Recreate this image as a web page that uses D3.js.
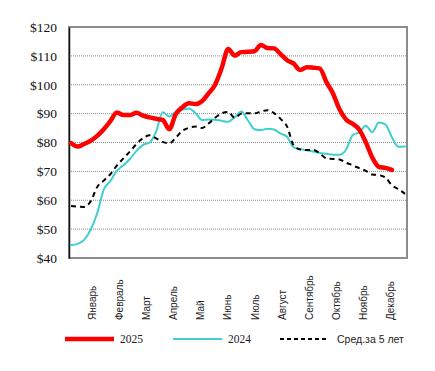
<!DOCTYPE html>
<html>
<head>
<meta charset="utf-8">
<script src="https://cdn.jsdelivr.net/npm/d3@7"></script>
<style>
  html, body { margin: 0; padding: 0; background: #fff; }
  svg { display: block; }
</style>
</head>
<body>
<svg id="chart" width="435" height="371"></svg>
<script>
// ---- Data (weekly, 52 weeks) ----
const months = ["Январь","Февраль","Март","Апрель","Май","Июнь","Июль","Август","Сентябрь","Октябрь","Ноябрь","Декабрь"];
const yTicks = [40, 50, 60, 70, 80, 90, 100, 110, 120];
const seriesNames = ["2025", "2024", "Сред.за 5 лет"];

const values2025 = [79.8,78.6,79.5,80.6,82.3,84.6,87.4,90.4,89.5,89.5,90.3,89.3,88.7,88.2,87.8,84.6,
  89.8,92.2,93.6,93.3,94.3,97.0,100.0,105.7,112.4,110.1,111.3,111.4,111.6,113.8,112.7,112.6,
  110.6,108.5,107.3,105.1,106.1,105.9,105.6,100.9,97.0,91.5,88.0,86.5,84.5,80.2,74.8,71.6,71.2,70.5,null,null];

const values2024 = [44.5,44.9,46.3,49.8,55.5,63.7,66.6,70.2,72.1,74.3,77.1,79.2,80.0,83.8,90.5,89.0,
  90.6,91.3,91.8,90.2,87.8,88.0,87.9,87.5,87.2,88.7,90.7,87.7,84.6,84.3,84.8,84.5,
  83.1,82.0,78.3,77.7,77.3,76.9,76.4,76.1,75.8,75.8,77.5,82.5,83.5,85.8,83.6,86.9,86.3,81.8,78.5,78.6];

const valuesAvg5 = [58.0,57.8,57.7,59.6,64.6,66.8,69.0,72.0,74.5,76.9,79.5,81.5,82.5,81.4,80.2,79.7,
  81.7,84.0,85.1,85.5,85.0,86.6,88.6,90.1,90.6,88.6,90.0,90.1,90.1,90.7,91.2,90.2,
  88.2,85.5,79.0,77.6,77.4,77.4,76.2,74.5,74.3,74.1,73.0,72.1,71.1,70.2,68.9,68.7,67.9,65.2,63.8,62.2];

const weeks = d3.range(1, 53);

// ---- Layout ----
const svg = d3.select("#chart");
const plot = { left: 69, right: 407, top: 27, bottom: 258 };

const x = d3.scaleLinear().domain([1, 52]).range([71, 405]);
const y = d3.scaleLinear().domain([40, 120]).range([plot.bottom, plot.top]);
const xMonth = d3.scalePoint().domain(months).range([92, 390]);

// grid lines
svg.append("g")
  .selectAll("line")
  .data(yTicks.filter(v => v > 40 && v < 120))
  .join("line")
  .attr("x1", plot.left).attr("x2", plot.right)
  .attr("y1", d => y(d)).attr("y2", d => y(d))
  .attr("stroke", "#8a8a8a")
  .attr("stroke-width", 1)
  .attr("stroke-dasharray", "1,1");

// plot frame
svg.append("rect")
  .attr("x", plot.left).attr("y", plot.top)
  .attr("width", plot.right - plot.left)
  .attr("height", plot.bottom - plot.top)
  .attr("fill", "none")
  .attr("stroke", "#8c8c8c")
  .attr("stroke-width", 2);

// y axis
const yAxis = d3.axisLeft(y).tickValues(yTicks).tickSize(0).tickPadding(12).tickFormat(d => "$" + d);
const gy = svg.append("g").attr("transform", `translate(${plot.left},0)`).call(yAxis);
gy.select(".domain").attr("stroke", "#111").attr("stroke-width", 1.5);
gy.selectAll("text")
  .attr("font-family", "'Liberation Serif', 'Times New Roman', serif")
  .attr("font-size", "13.5px")
  .attr("fill", "#111");

// x axis (month labels)
const xAxis = d3.axisBottom(xMonth).tickSize(0).tickPadding(0);
const gx = svg.append("g").attr("transform", `translate(0,${plot.bottom})`).call(xAxis);
gx.select(".domain").remove();
gx.selectAll(".tick text")
  .attr("font-family", "'Liberation Sans', Arial, sans-serif")
  .attr("font-size", "10px")
  .attr("fill", "#222")
  .attr("text-anchor", "start")
  .attr("dy", "0.35em")
  .attr("y", 0)
  .attr("transform", "translate(0,62) rotate(-90)");

// lines
const lineGen = d3.line()
  .defined(d => d[1] != null)
  .x(d => x(d[0]))
  .y(d => y(d[1]))
  .curve(d3.curveMonotoneX);

const series = [
  { name: seriesNames[1], values: values2024, color: "#3ECFCF", width: 2, dash: null },
  { name: seriesNames[2], values: valuesAvg5, color: "#000000", width: 2, dash: "5,4" },
  { name: seriesNames[0], values: values2025, color: "#FF0000", width: 4.5, dash: null }
];

svg.append("g")
  .selectAll("path")
  .data(series)
  .join("path")
  .attr("d", s => lineGen(weeks.map((w, i) => [w, s.values[i]])))
  .attr("fill", "none")
  .attr("stroke", s => s.color)
  .attr("stroke-width", s => s.width)
  .attr("stroke-dasharray", s => s.dash)
  .attr("stroke-linejoin", "round")
  .attr("stroke-linecap", s => s.dash ? "butt" : "round");

// legend
const legendItems = [
  { name: seriesNames[0], color: "#FF0000", width: 4.5, dash: null, x0: 65, font: "'Liberation Serif', 'Times New Roman', serif", size: "11.5px" },
  { name: seriesNames[1], color: "#3ECFCF", width: 2, dash: null, x0: 173, font: "'Liberation Serif', 'Times New Roman', serif", size: "11.5px" },
  { name: seriesNames[2], color: "#000000", width: 2, dash: "4,3", x0: 280, font: "'Liberation Sans', Arial, sans-serif", size: "10.5px" }
];
const lg = svg.append("g").attr("transform", "translate(0,339)");
const li = lg.selectAll("g").data(legendItems).join("g")
  .attr("transform", d => `translate(${d.x0},0)`);
li.append("line")
  .attr("x1", 0).attr("x2", 49).attr("y1", 0).attr("y2", 0)
  .attr("stroke", d => d.color)
  .attr("stroke-width", d => d.width)
  .attr("stroke-dasharray", d => d.dash);
li.append("text")
  .attr("x", d => d.dash ? 57 : 55)
  .attr("y", 0)
  .attr("dy", "0.35em")
  .attr("font-family", d => d.font)
  .attr("font-size", d => d.size)
  .attr("fill", "#222")
  .text(d => d.name);
</script>
</body>
</html>
